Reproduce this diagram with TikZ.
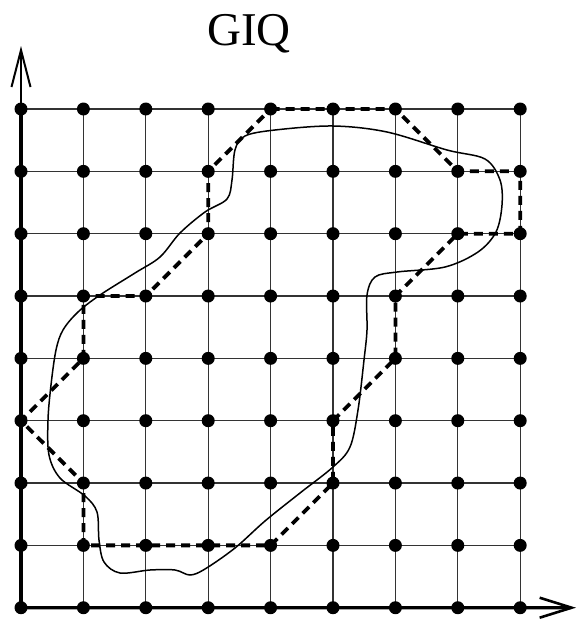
\documentclass[tikz,border=0pt]{standalone}
\usepackage{fontspec}
\setmainfont{Liberation Serif}
\usetikzlibrary{arrows.meta}
\begin{document}
\begin{tikzpicture}[x=1pt,y=-1pt,
  gridline/.style={line width=1.3pt,black!80},
  axisline/.style={line width=3.2pt,black},
  dot/.style={circle,fill=black,inner sep=0pt,minimum size=13pt},
  boundary/.style={line width=3.8pt,dash pattern=on 9pt off 6pt},
  region/.style={line width=1.5pt}]
\useasboundingbox (0,0) rectangle (577,619);
% grid nodes
\foreach \i in {0,...,8}{
  \foreach \j in {0,...,8}{
    \coordinate (c-\i-\j) at ({21+62.4*\i},{109+62.34*\j});
  }
}
% grid lines
\foreach \k in {0,...,8}{
  \draw[gridline] (c-\k-0) -- (c-\k-8);
  \draw[gridline] (c-0-\k) -- (c-8-\k);
}
% axes
\coordinate (ytip) at (21,46);
\coordinate (xtip) at (576,607.7);
\draw[axisline] (c-0-8) -- (c-0-0);
\draw[line width=2pt,-{Straight Barb[length=37pt,width=19pt,line width=2pt]}] (c-0-0) -- (ytip);
\draw[axisline,-{Straight Barb[length=32pt,width=20pt,line width=2.6pt]}] (c-0-8) -- (xtip);
% smooth region
\draw[region] plot[smooth cycle,tension=0.55] coordinates {
 (333,126) (387,132) (447,150) (485,159) (500,180) (502,205) (496,232)
 (478,252) (445,267) (397,272) (375,277) (367,295) (367,330) (364,360)
 (358,410) (350,447) (333,467) (300,493) (265,521) (235,548) (205,569)
 (190,575) (175,570) (150,570) (120,573) (104,562) (99,540) (97,512)
 (85,496) (60,478) (49,455) (48,420) (51,385) (56,350) (63,330) (78,312)
 (100,295) (135,273) (160,257) (180,233) (205,212) (227,199) (232,180)
 (235,150) (245,136) (275,130)};
% dots
\foreach \i in {0,...,8}{
  \foreach \j in {0,...,8}{
    \node[dot] (p-\i-\j) at (c-\i-\j) {};
  }
}
% dashed polygon
\draw[boundary] (p-4-0.center) -- (p-6-0.center) -- (p-7-1.center) -- (p-8-1.center)
  -- (p-8-2.center) -- (p-7-2.center) -- (p-6-3.center) -- (p-6-4.center)
  -- (p-5-5.center) -- (p-5-6.center) -- (p-4-7.center) -- (p-1-7.center)
  -- (p-1-6.center) -- (p-0-5.center) -- (p-1-4.center) -- (p-1-3.center)
  -- (p-2-3.center) -- (p-3-2.center) -- (p-3-1.center) -- cycle;
% title
\node (title) at (249,34) {\fontsize{47}{50}\selectfont GIQ};
\end{tikzpicture}
\end{document}
